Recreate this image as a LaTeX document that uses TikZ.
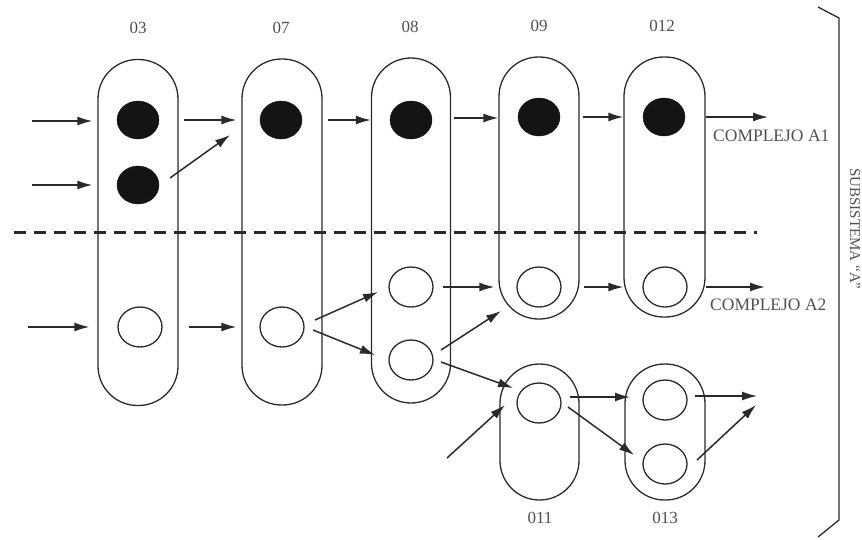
\documentclass[tikz,border=0pt]{standalone}
\usepackage{fontspec}
\setmainfont{Liberation Serif}
\usetikzlibrary{arrows.meta,shapes.geometric,calc}
\definecolor{ink}{HTML}{2A2A2A}
\definecolor{txt}{HTML}{505050}
\tikzset{
  capsule/.style={draw=ink, line width=1.3pt, rounded corners=39.5pt, inner sep=0pt},
  dot/.style={ellipse, fill=black!92, draw=black!92, minimum width=42pt, minimum height=38pt, inner sep=0pt},
  hole/.style={ellipse, draw=ink, line width=1.3pt, minimum width=44pt, minimum height=40pt, inner sep=0pt},
  arr/.style={draw=ink, line width=1.5pt, -{Latex[length=15pt,width=9pt]}},
  lbl/.style={text=txt, font=\fontsize{17}{19}\selectfont, inner sep=0pt},
  small/.style={text=txt, font=\fontsize{17.5}{19}\selectfont, inner sep=0pt},
  side/.style={text=txt, font=\fontsize{15}{17}\selectfont, inner sep=0pt},
  sep/.style={draw=ink, line width=3pt, dash pattern=on 12pt off 8pt}
}
\begin{document}
\begin{tikzpicture}[x=1pt,y=-1pt]
\useasboundingbox (0,0) rectangle (862,539);
% capsules
\node[capsule, minimum width=80pt, minimum height=346pt] (o3) at (138,232.5) {};
\node[capsule, minimum width=80pt, minimum height=346pt] (o7) at (282,232) {};
\node[capsule, minimum width=79pt, minimum height=345pt] (o8) at (411,230.5) {};
\node[capsule, minimum width=80pt, minimum height=262pt] (o9) at (539,188) {};
\node[capsule, minimum width=81pt, minimum height=260pt] (o12) at (664.5,187) {};
\node[capsule, minimum width=79pt, minimum height=136pt] (o11) at (539.5,432) {};
\node[capsule, minimum width=80pt, minimum height=136pt] (o13) at (665,432) {};
% top / bottom labels
\node[lbl] (t3) at (138,28) {03};
\node[lbl] (t7) at (281,28) {07};
\node[lbl] (t8) at (410,27) {08};
\node[lbl] (t9) at (539,26) {09};
\node[lbl] (t12) at (662,26) {012};
\node[lbl] (b11) at (540,518) {011};
\node[lbl] (b13) at (665,518) {013};
% dashed separator
\coordinate (s1) at (14,232);
\coordinate (s2) at (757,232);
\draw[sep] (s1) -- (s2);
% filled dots
\node[dot] (d3a) at (138,120) {};
\node[dot] (d3b) at (138,185) {};
\node[dot] (d7) at (281,120) {};
\node[dot] (d8) at (411,120) {};
\node[dot] (d9) at (539,117) {};
\node[dot] (d12) at (664,117) {};
% open circles
\node[hole] (c3) at (140,327) {};
\node[hole] (c7) at (282,327) {};
\node[hole] (c8a) at (411,287) {};
\node[hole] (c8b) at (411,360) {};
\node[hole] (c9) at (539,287) {};
\node[hole] (c12) at (665,287) {};
\node[hole] (c11) at (539,403) {};
\node[hole] (c13a) at (665,400) {};
\node[hole] (c13b) at (665,464) {};
% free ends
\coordinate (i1) at (32,121);
\coordinate (i2) at (32,185);
\coordinate (i3) at (28,327);
\coordinate (i4) at (447,458);
\coordinate (out1) at (768,117);
\coordinate (out2) at (765,287);
\coordinate (out3) at (757,396);
\coordinate (out4) at (756,405);
% arrows upper part
\draw[arr, shorten >=5pt] (i1) -- (i1 -| o3.west);
\draw[arr, shorten >=5pt] (i2) -- (i2 -| o3.west);
\draw[arr, shorten <=5pt, shorten >=5pt] (d3a -| o3.east) -- (d3a -| o7.west);
\draw[arr] ($(d3b)+(32,-7)$) -- ($(d7)+(-51,15)$);
\draw[arr, shorten <=5pt] (d7 -| o7.east) -- (d7 -| o8.west);
\draw[arr, shorten <=3pt] ($(d8 -| o8.east)+(0,-2)$) -- ($(d8 -| o9.west)+(0,-2)$);
\draw[arr, shorten <=3pt] (d9 -| o9.east) -- (d9 -| o12.west);
\draw[arr] (d12 -| o12.east) -- (out1);
\node[small, anchor=west] (ca1) at (713,136) {COMPLEJO A1};
% arrows lower part
\draw[arr, shorten >=8pt] (i3) -- (i3 -| o3.west);
\draw[arr, shorten <=10pt, shorten >=5pt] (c3 -| o3.east) -- (c3 -| o7.west);
\draw[arr] ($(c7)+(33,-7)$) -- ($(c8a)+(-33,5)$);
\draw[arr] ($(c7)+(31,3)$) -- ($(c8b)+(-36,-5)$);
\draw[arr, shorten >=4pt] ($(c8a.east)+(9,0)$) -- (c8a -| o9.west);
\draw[arr] ($(c8b)+(30,-10)$) -- ($(c9)+(-38,24)$);
\draw[arr] ($(c8b)+(30,2)$) -- ($(c11)+(-26,-15)$);
\draw[arr, shorten <=4pt] (c9 -| o9.east) -- (c9 -| o12.west);
\draw[arr] (c12 -| o12.east) -- (out2);
\node[small, anchor=west] (ca2) at (710,305) {COMPLEJO A2};
\draw[arr] (i4) -- ($(c11)+(-34,2)$);
\draw[arr] ($(c11)+(31,-6)$) -- ($(c13a)+(-35,-3)$);
\draw[arr] ($(c11)+(29,4)$) -- ($(c13b)+(-31,-9)$);
\draw[arr] ($(c13a)+(30,-4)$) -- (out3);
\draw[arr] ($(c13b)+(32,-4)$) -- (out4);
% bracket
\coordinate (k1) at (818,7);
\coordinate (k2) at (839,18);
\coordinate (k3) at (839,520);
\coordinate (k4) at (818,537);
\draw[ink, line width=1.3pt] (k1) -- (k2) -- (k3) -- (k4);
\node[side, rotate=-90] (sub) at (855,229) {SUBSISTEMA ``A''};
\end{tikzpicture}
\end{document}
